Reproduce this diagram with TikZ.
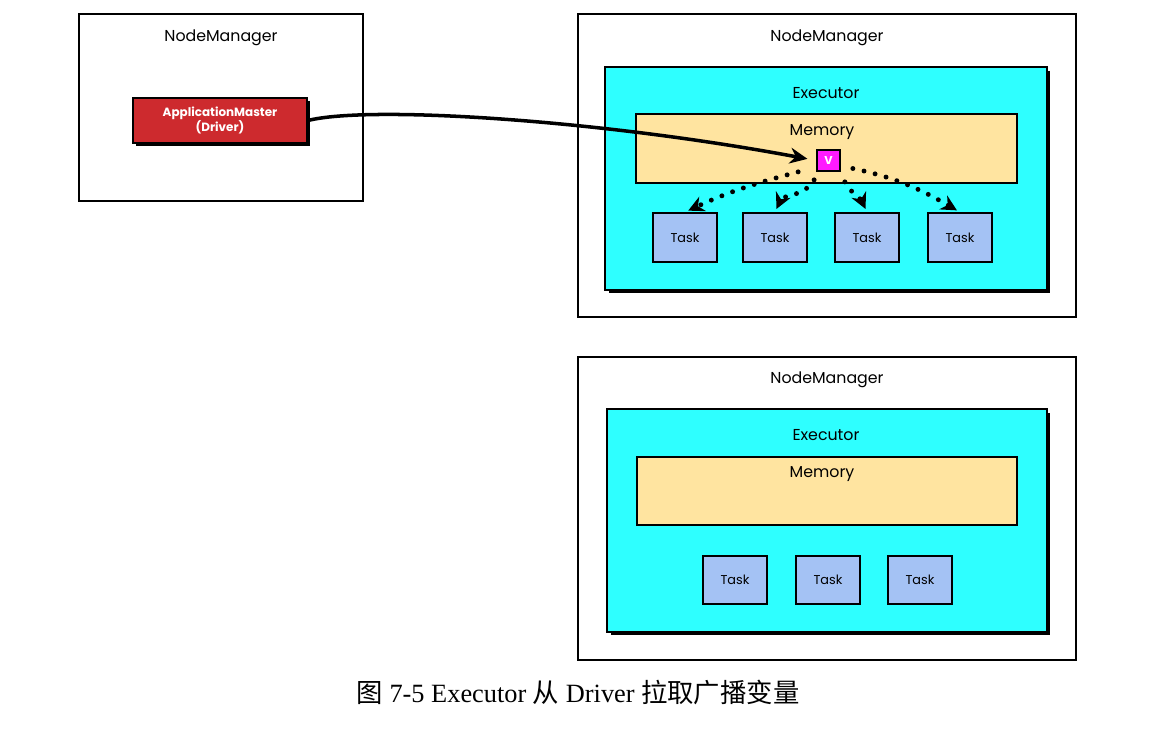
\documentclass[tikz,border=0pt]{standalone}
\usepackage{fontspec}
\setmainfont{Liberation Serif}
\setsansfont{Poppins}
\newfontfamily\cjk{Noto Sans CJK SC}
\usetikzlibrary{arrows.meta,shadows}
\definecolor{execcyan}{HTML}{2EFFFF}
\definecolor{membeige}{HTML}{FFE4A0}
\definecolor{taskblue}{HTML}{A4C2F4}
\definecolor{drvred}{HTML}{CD2A2E}
\definecolor{varpink}{HTML}{FF1AFF}
\begin{document}
\begin{tikzpicture}[x=0.02cm,y=-0.02cm,font=\sffamily\fontsize{9}{11}\selectfont,
  nmbox/.style={draw,line width=0.9pt,fill=white,minimum width=9.96cm,minimum height=6.06cm},
  execbox/.style={draw,line width=1pt,fill=execcyan,minimum width=8.84cm,minimum height=4.46cm,
    drop shadow={shadow xshift=0.07cm,shadow yshift=-0.07cm,fill=black,opacity=1}},
  membox/.style={draw,line width=1pt,fill=membeige,minimum width=7.62cm,minimum height=1.38cm},
  taskbox/.style={draw,line width=1pt,fill=taskblue,minimum width=1.28cm,minimum height=0.98cm,
    font=\sffamily\fontsize{7.3}{8}\selectfont},
  bcast/.style={line width=2.8pt,dash pattern=on 0pt off 6.5pt,line cap=round,
    -{Stealth[length=9pt,width=9pt]},shorten >=2pt}]
  \useasboundingbox (0,0) rectangle (1150,734);

  % left node manager with the driver
  \node[draw,line width=0.9pt,minimum width=5.68cm,minimum height=3.74cm] (nm left) at (221,107.5) {};
  \node (nm left title) at (221,38) {NodeManager};
  \node[draw,line width=1pt,fill=drvred,text=white,align=center,minimum width=3.48cm,minimum height=0.9cm,
    font=\sffamily\bfseries\fontsize{6.8}{8}\selectfont,
    drop shadow={shadow xshift=0.06cm,shadow yshift=-0.06cm,fill=black,opacity=1}] (driver) at (220,120.5)
    {ApplicationMaster\\(Driver)};

  % upper node manager, the one that pulls the variable
  \node[nmbox] (nm top) at (827,165.5) {};
  \node (nm top title) at (827,38) {NodeManager};
  \node[execbox] (exec top) at (826,178.5) {};
  \node (exec top title) at (826,93) {Executor};
  \node[membox] (mem top) at (826.5,148.5) {};
  \node (mem top title) at (822,132) {Memory};
  \node[draw,line width=1pt,fill=varpink,text=white,inner sep=0pt,minimum width=0.46cm,minimum height=0.42cm,
    font=\sffamily\bfseries\fontsize{6.5}{7}\selectfont] (var) at (828.5,160.5) {V};
  \foreach \x [count=\i] in {685,775,867,960}
    \node[taskbox] (task top \i) at (\x,237.5) {Task};

  % lower node manager
  \node[nmbox] (nm bot) at (827,508.5) {};
  \node (nm bot title) at (827,380) {NodeManager};
  \node[execbox,minimum width=8.8cm] (exec bot) at (827,520.5) {};
  \node (exec bot title) at (826,435) {Executor};
  \node[membox,minimum width=7.6cm,minimum height=1.36cm] (mem bot) at (827,491) {};
  \node (mem bot title) at (822,474) {Memory};
  \foreach \x [count=\i] in {735,828,920}
    \node[taskbox,minimum height=0.96cm] (task bot \i) at (\x,580) {Task};

  % driver sends the broadcast variable
  \draw[line width=2pt,-{Stealth[length=10pt,width=9pt]},shorten >=5pt]
    (driver.east) .. controls (370,105) and (600,120) .. (var.west);
  % tasks read it from memory
  \draw[bcast] (var.south west) ++(-18,0) to[out=195,in=25] (task top 1.north);
  \draw[bcast] (var.south west) ++(-2,8) to[out=240,in=65] (task top 2.north);
  \draw[bcast] (var.south east) ++(4,10) to[out=-60,in=115] (task top 3.north);
  \draw[bcast] (var.east) ++(12,8) to[out=-12,in=150] (task top 4.north);

  \node (caption) at (578,692) {\rmfamily\fontsize{15}{18}\selectfont{\cjk 图} 7-5 Executor {\cjk 从} Driver {\cjk 拉取广播变量}};
\end{tikzpicture}
\end{document}
